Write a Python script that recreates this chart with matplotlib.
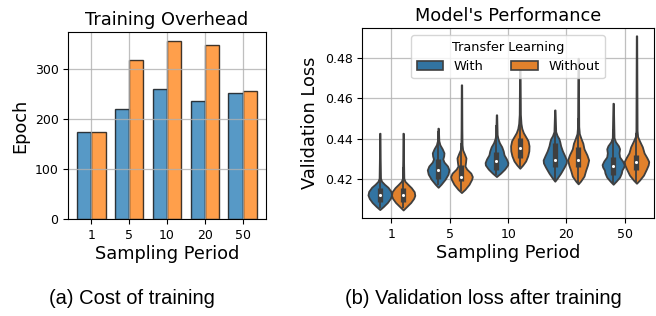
import matplotlib
matplotlib.use("Agg")
import matplotlib.pyplot as plt
import numpy as np
from matplotlib.patches import Patch

# ---------------- data ----------------
periods = ["1", "5", "10", "20", "50"]
epoch_with = [174, 219, 260, 236, 251]
epoch_without = [174, 318, 355, 347, 255]

# violin profiles: (loss value, half width in category units)
prof_with = [
    [(0.4050, 0.0), (0.4065, 0.06), (0.4085, 0.13), (0.4105, 0.18), (0.4122, 0.203), (0.4140, 0.19),
     (0.4160, 0.14), (0.4175, 0.08), (0.4190, 0.03), (0.4205, 0.012), (0.4300, 0.007), (0.4427, 0.004)],
    [(0.4160, 0.0), (0.4175, 0.05), (0.4200, 0.12), (0.4225, 0.17), (0.4246, 0.186), (0.4265, 0.16),
     (0.4285, 0.10), (0.4300, 0.08), (0.4315, 0.095), (0.4330, 0.10), (0.4350, 0.07), (0.4370, 0.03),
     (0.4390, 0.012), (0.4452, 0.004)],
    [(0.4213, 0.0), (0.4230, 0.07), (0.4250, 0.14), (0.4270, 0.19), (0.4282, 0.195), (0.4300, 0.17),
     (0.4320, 0.13), (0.4340, 0.115), (0.4360, 0.09), (0.4380, 0.05), (0.4400, 0.025), (0.4420, 0.012),
     (0.4518, 0.004)],
    [(0.4190, 0.0), (0.4205, 0.04), (0.4230, 0.10), (0.4260, 0.16), (0.4280, 0.195), (0.4295, 0.2),
     (0.4315, 0.17), (0.4340, 0.13), (0.4365, 0.10), (0.4385, 0.085), (0.4400, 0.07), (0.4415, 0.04),
     (0.4435, 0.015), (0.4542, 0.004)],
    [(0.4175, 0.0), (0.4190, 0.05), (0.4210, 0.11), (0.4230, 0.14), (0.4245, 0.15), (0.4260, 0.18),
     (0.4272, 0.19), (0.4290, 0.16), (0.4310, 0.11), (0.4330, 0.10), (0.4350, 0.11), (0.4365, 0.09),
     (0.4385, 0.04), (0.4405, 0.015), (0.4575, 0.004)],
]
prof_without = [
    [(0.4048, 0.0), (0.4065, 0.06), (0.4085, 0.13), (0.4105, 0.18), (0.4120, 0.2), (0.4138, 0.19),
     (0.4158, 0.14), (0.4175, 0.08), (0.4190, 0.03), (0.4205, 0.012), (0.4300, 0.007), (0.4427, 0.004)],
    [(0.4134, 0.0), (0.4150, 0.06), (0.4175, 0.13), (0.4200, 0.175), (0.4213, 0.186), (0.4230, 0.16),
     (0.4250, 0.09), (0.4265, 0.06), (0.4285, 0.07), (0.4305, 0.077), (0.4325, 0.05), (0.4345, 0.02),
     (0.4370, 0.01), (0.4450, 0.007), (0.4666, 0.004)],
    [(0.4254, 0.0), (0.4270, 0.05), (0.4290, 0.10), (0.4315, 0.135), (0.4340, 0.155), (0.4365, 0.158),
     (0.4390, 0.14), (0.4410, 0.10), (0.4430, 0.06), (0.4450, 0.035), (0.4475, 0.02), (0.4520, 0.01),
     (0.4780, 0.004)],
    [(0.4177, 0.0), (0.4190, 0.04), (0.4215, 0.10), (0.4245, 0.13), (0.4270, 0.16), (0.4295, 0.18),
     (0.4320, 0.15), (0.4350, 0.10), (0.4378, 0.08), (0.4400, 0.05), (0.4425, 0.02), (0.4460, 0.01),
     (0.4797, 0.004)],
    [(0.4180, 0.0), (0.4195, 0.05), (0.4220, 0.12), (0.4250, 0.17), (0.4270, 0.2), (0.4287, 0.21),
     (0.4305, 0.18), (0.4330, 0.13), (0.4360, 0.10), (0.4390, 0.05), (0.4410, 0.02), (0.4440, 0.01),
     (0.4908, 0.004)],
]
# box stats: q1, median, q3, whisker low, whisker high
box_with = [
    (0.4088, 0.4122, 0.4158, 0.4060, 0.4260),
    (0.4200, 0.4246, 0.4302, 0.4170, 0.4440),
    (0.4245, 0.4290, 0.4336, 0.4220, 0.4470),
    (0.4262, 0.4295, 0.4378, 0.4195, 0.4500),
    (0.4221, 0.4266, 0.4312, 0.4180, 0.4450),
]
box_without = [
    (0.4088, 0.4120, 0.4156, 0.4058, 0.4260),
    (0.4190, 0.4213, 0.4270, 0.4140, 0.4380),
    (0.4304, 0.4356, 0.4403, 0.4260, 0.4550),
    (0.4262, 0.4295, 0.4358, 0.4180, 0.4500),
    (0.4246, 0.4287, 0.4320, 0.4185, 0.4430),
]
hue_labels = ["With", "Without"]

# ---------------- figure ----------------
W, H = 656, 316
fig = plt.figure(figsize=(W / 100, H / 100), dpi=100)

def px_axes(x0, y0, x1, y1):
    return fig.add_axes([x0 / W, 1 - y1 / H, (x1 - x0) / W, (y1 - y0) / H])

# ---- left: bars ----
ax1 = px_axes(68.3, 32.3, 265.7, 219.3)
x = np.arange(len(periods))
bw = 0.375
ax1.bar(x - bw / 2, epoch_with, bw, color="tab:blue", alpha=0.75, edgecolor="black", linewidth=1.0)
ax1.bar(x + bw / 2, epoch_without, bw, color="tab:orange", alpha=0.75, edgecolor="black", linewidth=1.0)
ax1.set_xticks(x)
ax1.set_xticklabels(periods)
ax1.set_yticks([0, 100, 200, 300])
ax1.grid(True, color="#b0b0b0", linewidth=0.9, alpha=0.8)
ax1.set_title("Training Overhead", fontsize=12.8, pad=5)
ax1.set_xlabel("Sampling Period", fontsize=12.8, labelpad=2)
ax1.set_ylabel("Epoch", fontsize=12.8)
ax1.tick_params(labelsize=9)

# ---- right: violins ----
ax2 = px_axes(362.3, 28.3, 654, 218.3)
cols = ["#3274a1", "#e1812c"]
edge = "#3f3f3f"
for h, (profs, boxes) in enumerate([(prof_with, box_with), (prof_without, box_without)]):
    off = -0.2 if h == 0 else 0.2
    stats = []
    widths = []
    for prof in profs:
        ys = np.array([p[0] for p in prof])
        ws = np.array([p[1] for p in prof])
        stats.append(dict(coords=ys, vals=ws, mean=np.nan, median=np.nan,
                          min=ys.min(), max=ys.max()))
        widths.append(2 * ws.max())
    pos = x + off
    parts = ax2.violin(stats, positions=pos, widths=widths, showmeans=False,
                       showextrema=False, showmedians=False)
    for b in parts["bodies"]:
        b.set_facecolor(cols[h])
        b.set_edgecolor(edge)
        b.set_linewidth(1.3)
        b.set_alpha(1)
        b.set_zorder(2)
    q1 = [b[0] for b in boxes]
    med = [b[1] for b in boxes]
    q3 = [b[2] for b in boxes]
    wl = [b[3] for b in boxes]
    wh = [b[4] for b in boxes]
    ax2.vlines(pos, wl, wh, color=edge, linewidth=1.3, zorder=3)
    ax2.vlines(pos, q1, q3, color=edge, linewidth=3.8, zorder=3)
    ax2.scatter(pos, med, s=5, color="white", zorder=4, linewidths=0)

ax2.set_xlim(-0.5, 4.5)
ax2.set_ylim(0.4007, 0.4945)
ax2.set_xticks(x)
ax2.set_xticklabels(periods)
ax2.set_yticks([0.42, 0.44, 0.46, 0.48])
ax2.grid(True, color="#b0b0b0", linewidth=0.9, alpha=0.8)
ax2.set_title("Model's Performance", fontsize=12.8, pad=5)
ax2.set_xlabel("Sampling Period", fontsize=12.8, labelpad=2)
ax2.set_ylabel("Validation Loss", fontsize=12.8)
ax2.tick_params(labelsize=9)

handles = [Patch(facecolor=cols[i], edgecolor=edge, linewidth=1.2, label=hue_labels[i]) for i in range(2)]
leg = ax2.legend(handles=handles, title="Transfer Learning", ncol=2, loc="upper center",
                 fontsize=9.4, title_fontsize=9.3, handlelength=2.05, handletextpad=0.8,
                 columnspacing=2.1, borderaxespad=0.55, framealpha=0.8)
leg.set_zorder(10)

cap_font = ["Liberation Sans Narrow", "Liberation Sans", "DejaVu Sans"]
fig.text(132 / W, 1 - 299 / H, "(a) Cost of training", ha="center", va="center",
         fontsize=14.5, family=cap_font)
fig.text(483 / W, 1 - 299 / H, "(b) Validation loss after training", ha="center", va="center",
         fontsize=14.5, family=cap_font)

fig.savefig("out.png", dpi=100)
